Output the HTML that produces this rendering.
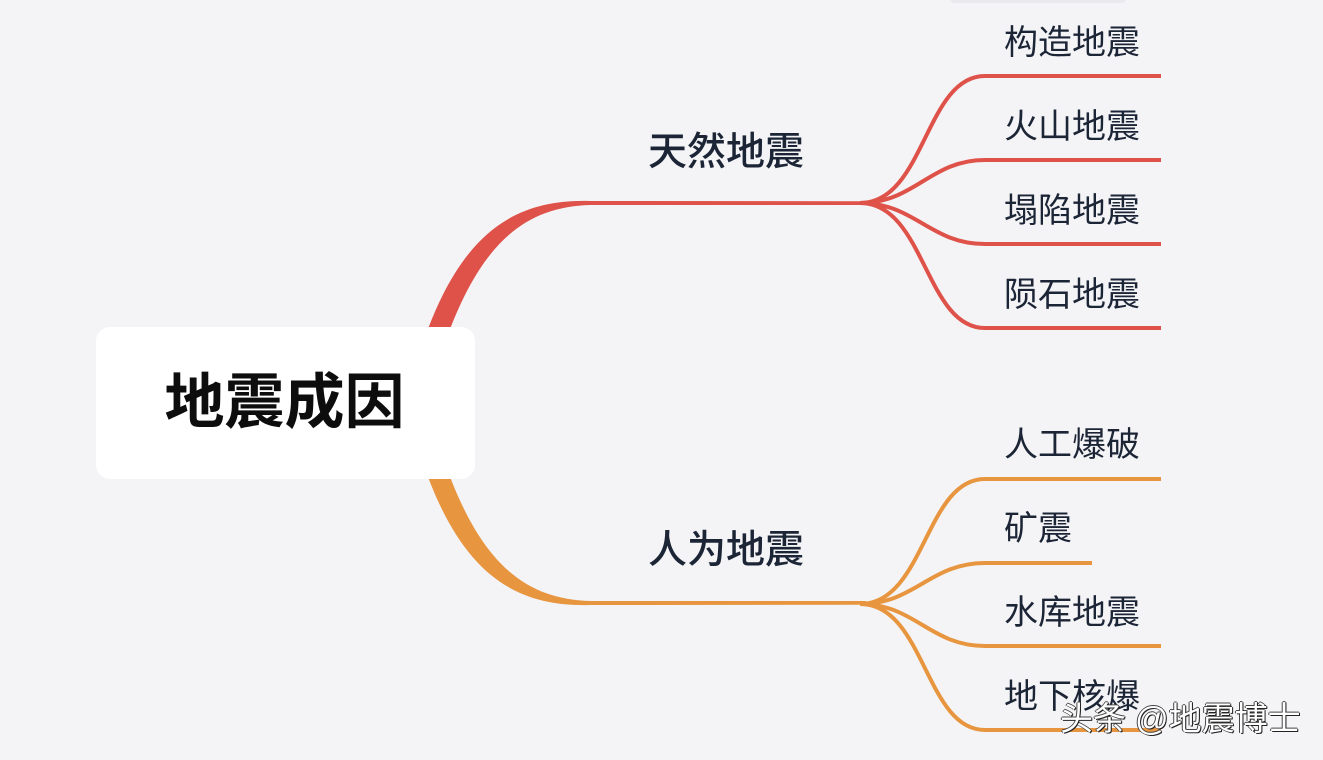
<!DOCTYPE html>
<html><head><meta charset="utf-8">
<style>
html,body{margin:0;padding:0;}
body{width:1323px;height:760px;background:#f4f4f7;position:relative;overflow:hidden;font-family:"Liberation Sans","Noto Sans CJK SC",sans-serif;}
svg{position:absolute;left:0;top:0;}
.t{position:absolute;line-height:1;white-space:nowrap;color:#1c2536;}
.c{font-size:34px;}
.b{font-size:39px;font-weight:500;}
.root{position:absolute;left:96px;top:327px;width:379px;height:152px;background:#fff;border-radius:14px;}
.rt{position:absolute;left:0;width:377px;top:46px;text-align:center;font-size:60px;font-weight:bold;color:#0d0d0d;line-height:1;}
.wm{position:absolute;left:1060px;top:702px;font-size:33px;color:#fff;line-height:1;white-space:nowrap;text-shadow:1px 1px 0 #222,-1px 0 0 #444,0 -1px 0 #444,1px 0 0 #333;}
</style></head><body>
<div style="position:absolute;left:950px;top:-6px;width:176px;height:9px;background:#e9e9ee;border-radius:5px;"></div>
<svg width="1323" height="760" viewBox="0 0 1323 760">
  <g id="red">
    <path d="M 424 340 C 462 232, 515 199, 590 201 L 866 201.2 L 866 205 L 590 205 C 527 207, 482 240, 446 340 Z" fill="#df5249"/>
    <g fill="none" stroke="#df5249" stroke-width="4" stroke-linecap="butt">
      <path d="M 860 203 C 925 203, 925 76, 985 76 L 1161 76"/>
      <path d="M 860 203 C 915 203, 930 160, 985 160 L 1161 160"/>
      <path d="M 860 203 C 915 203, 930 244, 985 244 L 1161 244"/>
      <path d="M 860 203 C 925 203, 925 328, 985 328 L 1161 328"/>
    </g>
  </g>
  <g id="orange">
    <path d="M 424 466 C 462 574, 515 607, 590 605 L 866 604.8 L 866 601 L 590 601 C 527 599, 482 566, 446 466 Z" fill="#e8953f"/>
    <g fill="none" stroke="#e8953f" stroke-width="4" stroke-linecap="butt">
      <path d="M 860 604 C 925 604, 925 479, 985 479 L 1161 479"/>
      <path d="M 860 604 C 915 604, 930 563, 985 563 L 1092 563"/>
      <path d="M 860 604 C 915 604, 930 646, 985 646 L 1161 646"/>
      <path d="M 860 604 C 925 604, 925 730, 985 730 L 1161 730"/>
    </g>
  </g>
</svg>
<div class="root"><div class="rt">地震成因</div></div>

<div class="t b" style="left:648px;top:133px;">天然地震</div>
<div class="t b" style="left:648px;top:531px;">人为地震</div>

<div class="t c" style="left:1004px;top:26px;">构造地震</div>
<div class="t c" style="left:1004px;top:110px;">火山地震</div>
<div class="t c" style="left:1004px;top:194px;">塌陷地震</div>
<div class="t c" style="left:1004px;top:278px;">陨石地震</div>

<div class="t c" style="left:1004px;top:428px;">人工爆破</div>
<div class="t c" style="left:1004px;top:512px;">矿震</div>
<div class="t c" style="left:1004px;top:596px;">水库地震</div>
<div class="t c" style="left:1004px;top:680px;">地下核爆</div>

<div class="wm">头条 @地震博士</div>
</body></html>
